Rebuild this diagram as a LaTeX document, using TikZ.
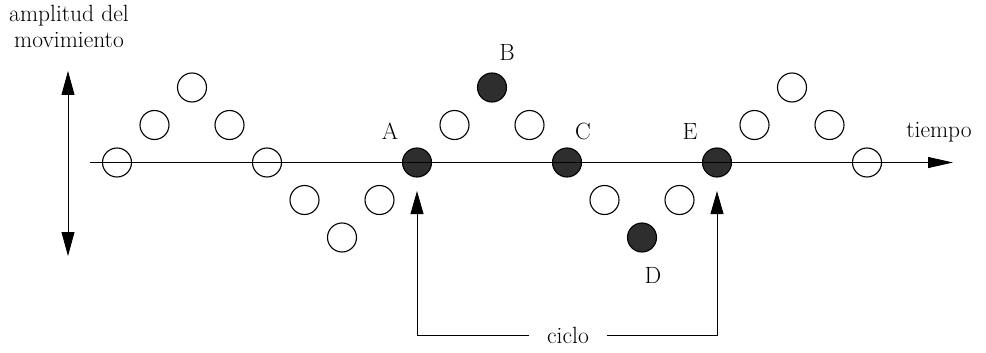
\documentclass[tikz,border=0pt]{standalone}
\usetikzlibrary{arrows.meta}
\begin{document}
\begin{tikzpicture}[x=1pt,y=-1pt,
  every node/.style={font=\fontsize{23.5}{26}\selectfont},
  ball/.style={circle,draw,line width=1.1pt,minimum size=29pt,inner sep=0pt},
  openball/.style={ball},
  darkball/.style={ball,fill=black!82},
  letter/.style={inner sep=0pt},
  thin/.style={line width=0.9pt},
]
\useasboundingbox (0,0) rectangle (986,353);

% oscillating positions along the time axis
\foreach \k/\dy in {0/0,1/-1,2/-2,3/-1,4/0,5/1,6/2,7/1,9/-1,11/-1,13/1,15/1,17/-1,18/-2,19/-1,20/0}
  \node[openball] (c\k) at ({117+37.5*\k},{162.5+37.5*\dy}) {};
\foreach \k/\dy in {8/0,10/-2,12/0,14/2,16/0}
  \node[darkball] (c\k) at ({117+37.5*\k},{162.5+37.5*\dy}) {};

% time axis
\coordinate (axisL) at (90,162.5);
\coordinate (axisR) at (953,162.5);
\draw[thin,-{Triangle[length=25pt,width=11pt]}] (axisL) -- (axisR);
\node[anchor=base] (tiempo) at (939,137) {tiempo};

% amplitude arrow
\coordinate (ampT) at (68,71);
\coordinate (ampB) at (68,256);
\draw[thin,{Triangle[length=24pt,width=13pt]}-{Triangle[length=24pt,width=13pt]}] (ampT) -- (ampB);
\node[align=center,anchor=base] (ampl) at (69,48) {amplitud del\\movimiento};

% point labels
\node[letter] (lA) at (390,131) {A};
\node[letter] (lB) at (507,52) {B};
\node[letter] (lC) at (583,131) {C};
\node[letter] (lD) at (653,275) {D};
\node[letter] (lE) at (690,131) {E};

% one cycle
\node[anchor=mid,inner xsep=18pt,inner ysep=0pt] (ciclo) at (568,341.5) {ciclo};
\draw[thin,-{Triangle[length=23pt,width=13pt]}] (ciclo.west) -| ([yshift=-13.5pt]c8.south);
\draw[thin,-{Triangle[length=23pt,width=13pt]}] (ciclo.east) -| ([yshift=-13.5pt]c16.south);
\end{tikzpicture}
\end{document}
